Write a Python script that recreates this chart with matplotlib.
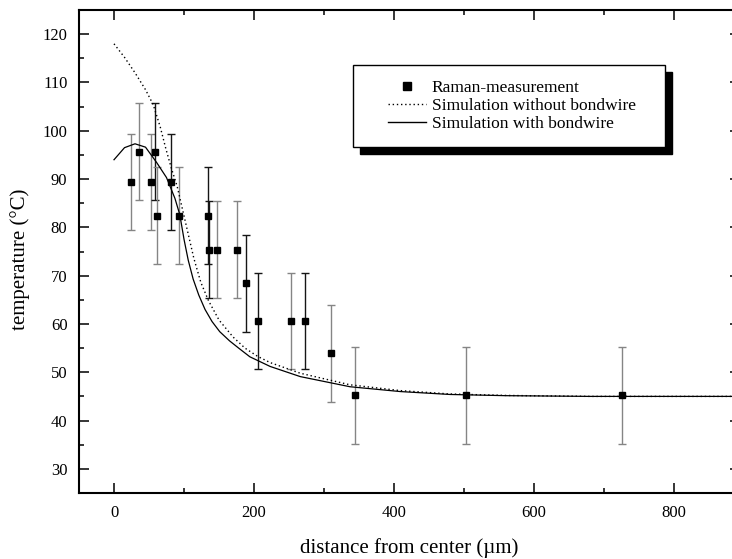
import numpy as np
import matplotlib
matplotlib.use("Agg")
import matplotlib.pyplot as plt
from matplotlib.patches import Rectangle
from matplotlib.lines import Line2D
from matplotlib.ticker import MultipleLocator

# ------------------------- data -------------------------
# Raman measurement: distance (um), temperature (C), error (C)
raman_x = [24, 36, 53, 59, 62, 82, 93, 134, 136, 147, 175, 189, 206, 253, 273, 310, 344, 502, 726]
raman_t = [89.4, 95.7, 89.4, 95.7, 82.4, 89.4, 82.4, 82.4, 75.4, 75.4, 75.4, 68.4,
           60.6, 60.6, 60.6, 53.9, 45.2, 45.2, 45.2]
raman_err = [10, 10, 10, 10, 10, 10, 10, 10, 10, 10, 10, 10, 10, 10, 10, 10, 10, 10, 10]

# simulation without bondwire (dotted)
sim_wo_x = [0, 15, 30, 45, 56, 66, 74, 82, 90, 98, 106, 114, 124, 135, 150, 170, 187,
            205, 223, 266, 337, 409, 480, 560, 680, 894]
sim_wo_t = [118.0, 115.2, 112.0, 108.5, 105.4, 100.8, 96.3, 92.2, 88.6, 83.6, 78.6, 73.6,
            68.6, 64.8, 60.8, 57.3, 55.0, 53.3, 52.0, 49.8, 47.4, 46.2, 45.5, 45.2, 45.0, 45.0]

# simulation with bondwire (solid)
sim_w_x = [0, 15, 30, 45, 61, 75, 87, 94, 100, 106, 113, 121, 130, 140, 151, 165, 178,
           194, 223, 266, 337, 409, 480, 560, 680, 894]
sim_w_t = [94.0, 96.5, 97.3, 96.6, 93.4, 90.3, 86.0, 82.6, 77.5, 73.2, 69.3, 66.0, 63.0,
           60.5, 58.4, 56.5, 55.0, 53.2, 51.2, 49.1, 47.0, 46.0, 45.4, 45.15, 45.0, 45.0]

x_ticks = [0, 200, 400, 600, 800]
y_ticks = [30, 40, 50, 60, 70, 80, 90, 100, 110, 120]

# ------------------------- style -------------------------
plt.rcParams["font.family"] = ["Liberation Serif", "DejaVu Serif"]
bar_is_gray = [1, 1, 1, 0, 1, 0, 1, 0, 0, 1, 1, 0, 0, 1, 0, 1, 1, 1, 1]
W, H = 732, 559

fig = plt.figure(figsize=(W / 100, H / 100), dpi=100)
ax = fig.add_axes([79 / W, (H - 493) / H, (740 - 79) / W, (493 - 10) / H])

for x, t, e, g in zip(raman_x, raman_t, raman_err, bar_is_gray):
    c = "#858585" if g else "#151515"
    ax.errorbar([x], [t], yerr=[e], fmt="none", ecolor=c, elinewidth=1.0,
                capsize=3, capthick=1.0, zorder=2)

ax.plot(sim_wo_x, sim_wo_t, color="black", lw=1.0, linestyle=(0, (1, 2)), zorder=3)
ax.plot(sim_w_x, sim_w_t, color="black", lw=0.9, zorder=3)
ax.plot(raman_x, raman_t, "s", color="black", ms=4.8, zorder=4)

ax.set_xlim(-50, 894)
ax.set_ylim(25, 125)
ax.set_xticks(x_ticks)
ax.set_yticks(y_ticks)
ax.xaxis.set_minor_locator(MultipleLocator(100))
ax.yaxis.set_minor_locator(MultipleLocator(5))
ax.tick_params(which="both", direction="in", top=True, right=True, width=1.1)
ax.tick_params(which="major", length=7.5)
ax.tick_params(which="minor", length=3.8)
ax.tick_params(axis="x", which="major", pad=8.5, labelsize=12)
ax.tick_params(axis="y", which="major", pad=8.3, labelsize=12)
for s in ax.spines.values():
    s.set_linewidth(1.5)

ax.set_xlabel("distance from center (µm)", fontsize=15)
ax.set_ylabel("temperature (°C)", fontsize=15)
ax.xaxis.set_label_coords(0.4992, -0.093)
ax.yaxis.set_label_coords(-0.074, 0.484)

# ---- legend box with black drop shadow ----
bx0, by0, bx1, by1 = 353, 65, 665, 147
box = (bx0 / W, 1 - by1 / H)
bw, bh = (bx1 - bx0) / W, (by1 - by0) / H
ax.add_patch(Rectangle((box[0] + 7 / W, box[1] - 7 / H), bw, bh, transform=fig.transFigure,
                       facecolor="black", edgecolor="black", clip_on=False, zorder=6))
ax.add_patch(Rectangle(box, bw, bh, transform=fig.transFigure, facecolor="white",
                       edgecolor="black", lw=1.0, clip_on=False, zorder=6.5))

handles = [
    Line2D([0], [0], marker="s", color="black", linestyle="None", markersize=5.2),
    Line2D([0], [0], color="black", lw=1.0, linestyle=(0, (1, 2))),
    Line2D([0], [0], color="black", lw=1.0),
]
labels = ["Raman-measurement", "Simulation without bondwire", "Simulation with bondwire"]
leg = ax.legend(handles, labels, loc="center", bbox_to_anchor=(box[0] + 3 / W, box[1], bw, bh),
                bbox_transform=fig.transFigure, frameon=False, fontsize=12.5,
                handlelength=2.2, handletextpad=0.3, labelspacing=0.1, borderaxespad=0)
leg.set_zorder(7)

fig.savefig("out.png", dpi=100)
